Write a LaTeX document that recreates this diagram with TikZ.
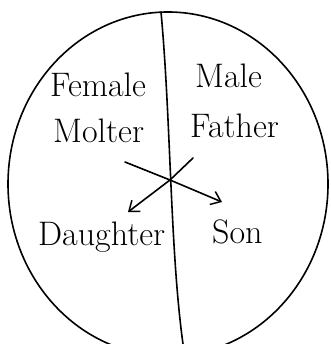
\documentclass[tikz,border=0pt]{standalone}
\usetikzlibrary{arrows.meta}
\begin{document}
\begin{tikzpicture}[x=1pt,y=-1pt,
  ink/.style={line width=1.6pt,line cap=round,line join=round},
  lbl/.style={font=\fontsize{34}{34}\selectfont,inner sep=0pt,anchor=base west},
  arr/.style={ink,-{Straight Barb[length=9pt,width=14pt,line width=1.5pt]}}]
\useasboundingbox (0,0) rectangle (330,344);
\begin{scope}
\clip (0,0) rectangle (330,344);
\draw[ink] (168,184) ellipse [x radius=160, y radius=172];
\draw[ink] (161,12) .. controls (171,120) and (170,250) .. (183,344);
\end{scope}
\node[lbl] (female) at (50,97) {Female};
\node[lbl] (male) at (195,88) {Male};
\node[lbl] (mother) at (53,143) {Molter};
\node[lbl] (father) at (190,138) {Father};
\node[lbl] (daughter) at (38,245) {Daughter};
\node[lbl] (son) at (212,243) {Son};
\coordinate (ul) at (125,162);
\coordinate (ur) at (193,158);
\coordinate (x) at (170,180);
\coordinate (dend) at (128,212);
\coordinate (send) at (222,202);
\draw[arr] (ur) -- (x) -- (dend);
\draw[arr] (ul) -- (x) -- (send);
\end{tikzpicture}
\end{document}
